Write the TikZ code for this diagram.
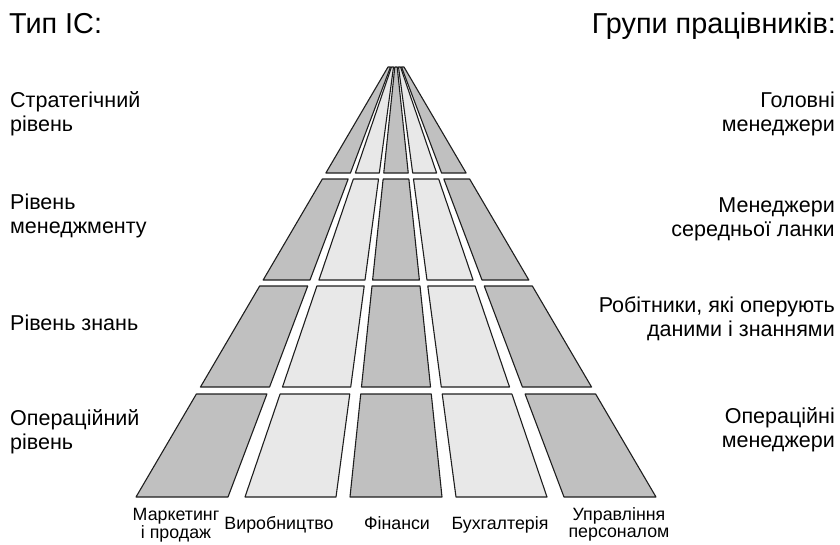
\documentclass[tikz,border=0pt]{standalone}
\usepackage{fontspec}
\setmainfont{Liberation Sans}
\definecolor{darkcell}{HTML}{C0C0C0}
\definecolor{lightcell}{HTML}{E8E8E8}
\definecolor{edgec}{HTML}{1E1E1E}
\newcommand\lineL[1]{\begin{tabular}[t]{@{}l@{}}#1\end{tabular}}
\newcommand\lineR[1]{\begin{tabular}[t]{@{}r@{}}#1\end{tabular}}
\newcommand\lineC[1]{\begin{tabular}[t]{@{}c@{}}#1\end{tabular}}
\begin{document}
\begin{tikzpicture}[x=1pt,y=-1pt,
  cell/.style={draw=edgec,line width=1.1pt,line join=round},
  lbl/.style={font=\fontsize{21.5}{24.5}\selectfont,inner sep=0pt},
  ttl/.style={font=\fontsize{28.8}{32}\selectfont,inner sep=0pt},
  sml/.style={font=\fontsize{17.8}{17}\selectfont,inner sep=0pt,anchor=base}]
\useasboundingbox (0,0) rectangle (840,544);
\foreach \ya/\yb in {67/173,179/280,286/387,394/497}{
  \foreach \tl/\bl/\tr/\br/\col in {-8/-260/-5.5/-168/darkcell,-4.5/-151/-2.5/-60/lightcell,-1.2/-46/1.2/46/darkcell,2.5/60/4.5/151/lightcell,5.5/168/8/260/darkcell}{
    \pgfmathsetmacro\fa{(\ya-67)/430}
    \pgfmathsetmacro\fb{(\yb-67)/430}
    \pgfmathsetmacro\xa{396+\tl+(\bl-\tl)*\fa}
    \pgfmathsetmacro\xb{396+\tr+(\br-\tr)*\fa}
    \pgfmathsetmacro\xc{396+\tr+(\br-\tr)*\fb}
    \pgfmathsetmacro\xd{396+\tl+(\bl-\tl)*\fb}
    \filldraw[cell,fill=\col] (\xa,\ya) -- (\xb,\ya) -- (\xc,\yb) -- (\xd,\yb) -- cycle;
  }
}
% titles
\node[ttl,anchor=base west] (tleft) at (9,33) {Тип ІС:};
\node[ttl,anchor=base east] (tright) at (836,33) {Групи працівників:};
% left labels
\node[lbl,anchor=base west] (l1) at (10,107) {\lineL{Стратегічний\\рівень}};
\node[lbl,anchor=base west] (l2) at (10,209) {\lineL{Рівень\\менеджменту}};
\node[lbl,anchor=base west] (l3) at (10,330) {Рівень знань};
\node[lbl,anchor=base west] (l4) at (10,425) {\lineL{Операційний\\рівень}};
% right labels
\node[lbl,anchor=base east] (r1) at (835,107) {\lineR{Головні\\менеджери}};
\node[lbl,anchor=base east] (r2) at (835,212) {\lineR{Менеджери\\середньої ланки}};
\node[lbl,anchor=base east] (r3) at (835,312) {\lineR{Робітники, які оперують\\даними і знаннями}};
\node[lbl,anchor=base east] (r4) at (835,423) {\lineR{Операційні\\менеджери}};
% bottom labels
\node[sml] (b1) at (176,520) {\lineC{Маркетинг\\і продаж}};
\node[sml] (b2) at (279,529) {Виробництво};
\node[sml] (b3) at (397,529) {Фінанси};
\node[sml] (b4) at (500,529) {Бухгалтерія};
\node[sml] (b5) at (619,520) {\lineC{Управління\\персоналом}};
\end{tikzpicture}
\end{document}
